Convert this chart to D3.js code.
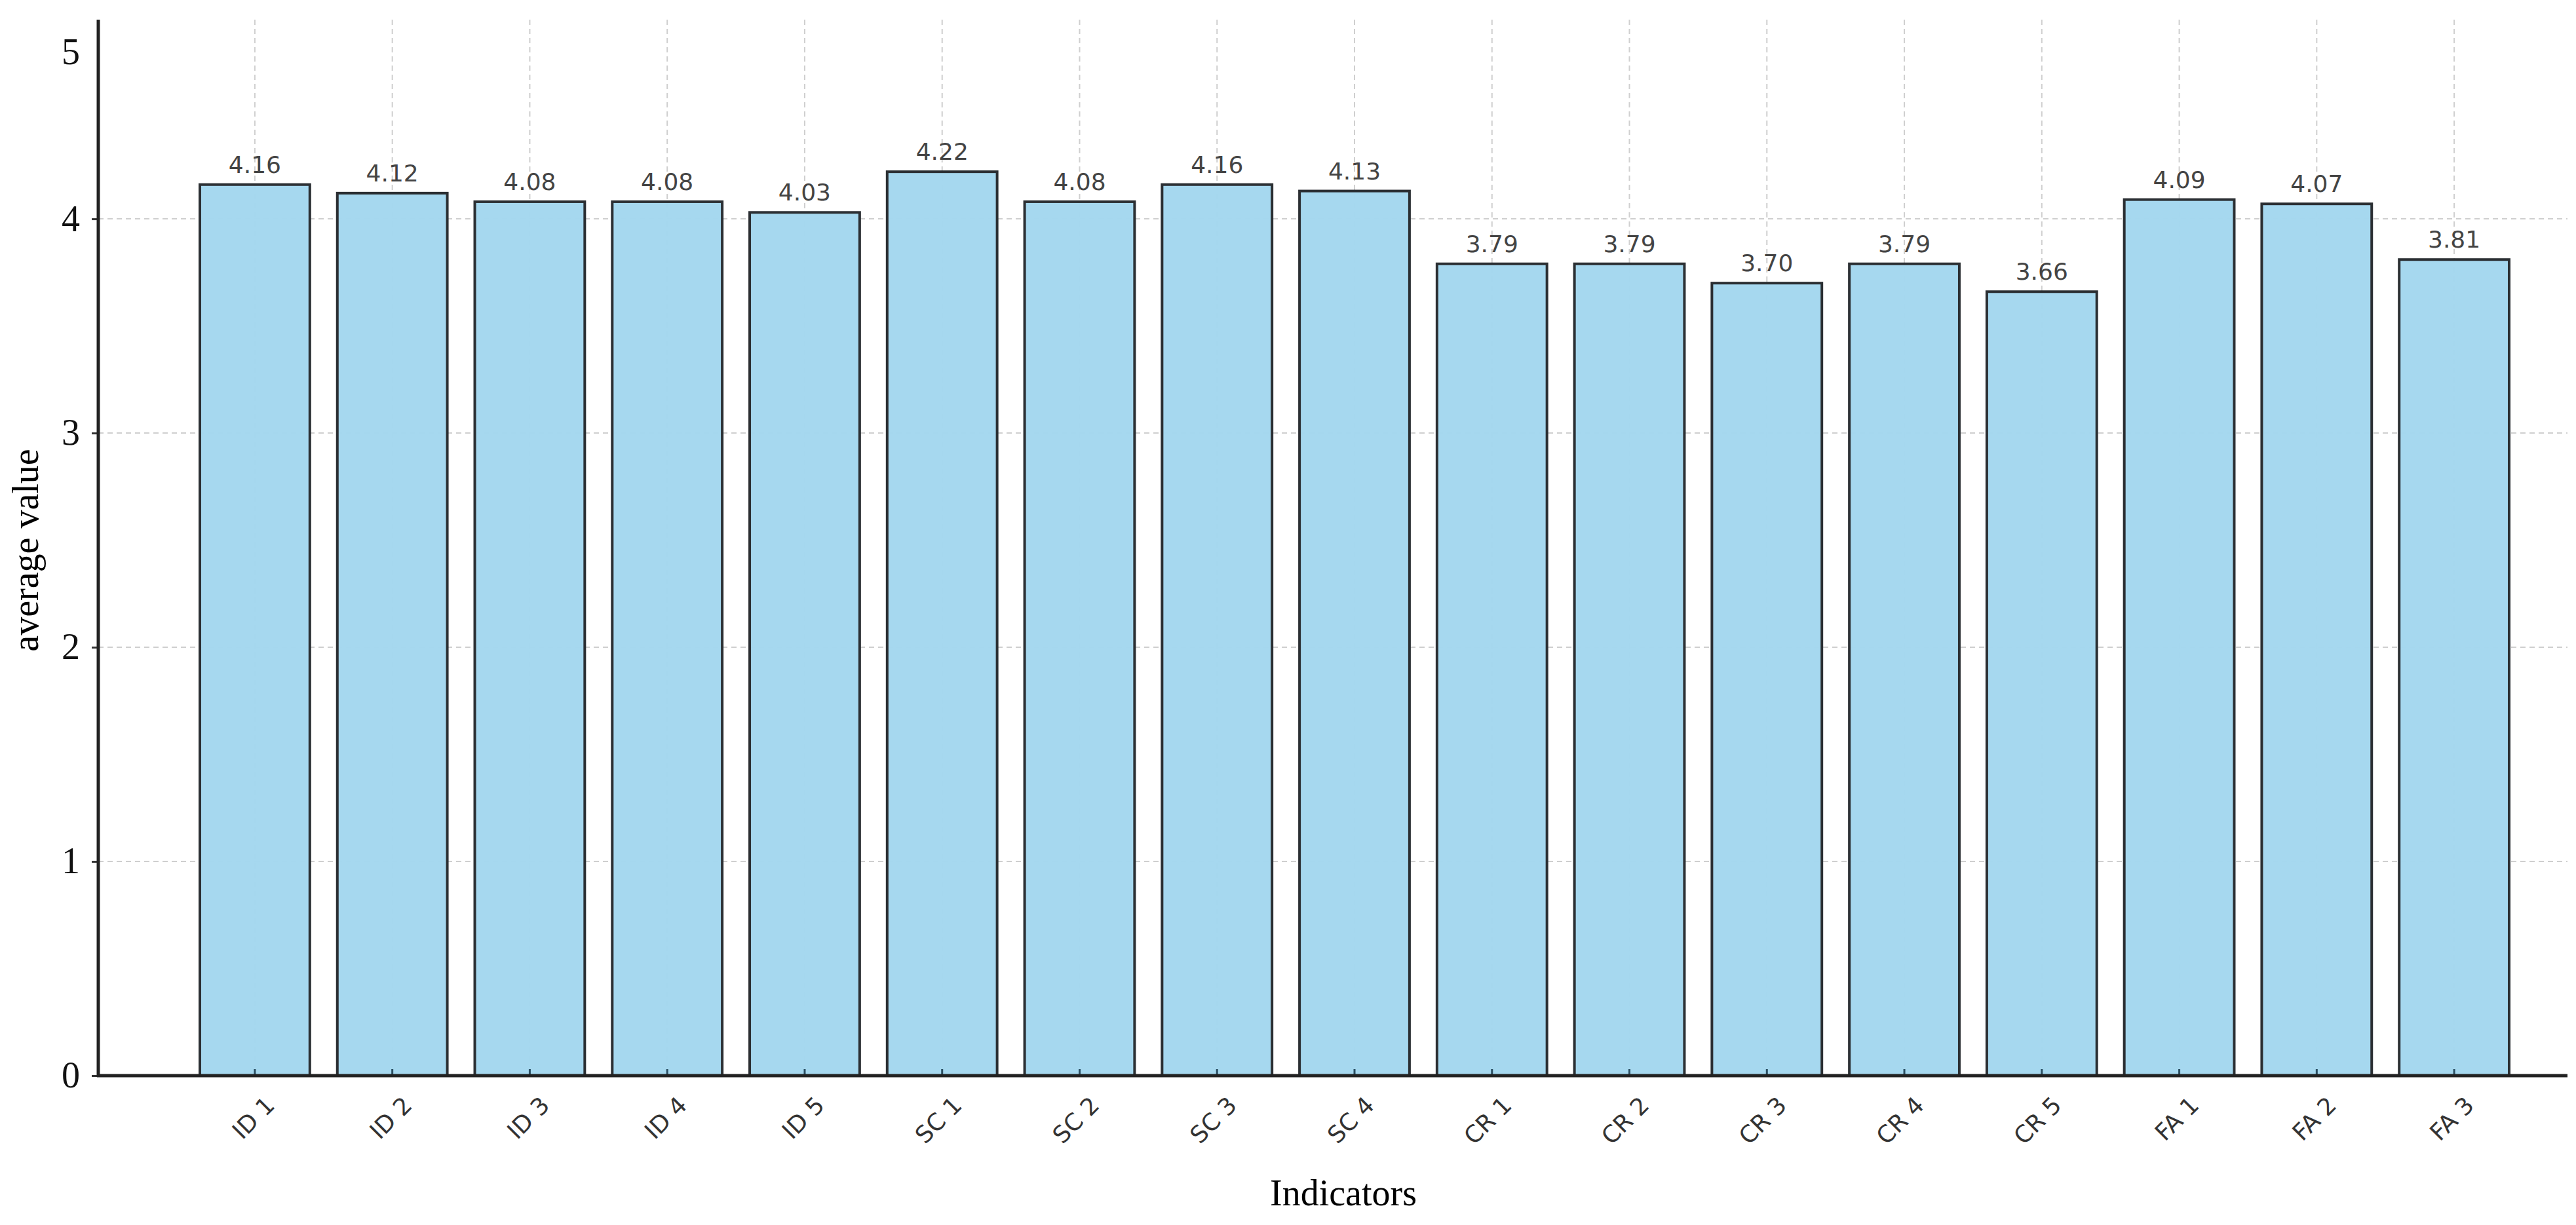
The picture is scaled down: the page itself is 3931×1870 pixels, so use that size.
<!DOCTYPE html>
<html><head><meta charset="utf-8">
<script src="https://cdn.jsdelivr.net/npm/d3@7"></script>
<style>body{margin:0;background:#fff}</style>
</head><body>
<svg id="chart" width="3931" height="1870"></svg>
<script>
const categories = ["ID 1","ID 2","ID 3","ID 4","ID 5","SC 1","SC 2","SC 3","SC 4","CR 1","CR 2","CR 3","CR 4","CR 5","FA 1","FA 2","FA 3"];
const values = [4.16,4.12,4.08,4.08,4.03,4.22,4.08,4.16,4.13,3.79,3.79,3.70,3.79,3.66,4.09,4.07,3.81];
const yTicks = [0,1,2,3,4];

const svg = d3.select("#chart");
const mLeft = 150, mRight = 3918, mBottom = 1642, mTop = 30;

const x = d3.scaleBand().domain(categories).range([305, 3829]).paddingInner(0.2).paddingOuter(0);
const y = d3.scaleLinear().domain([0, 4.93]).range([mBottom, mTop]);

// grid
svg.append("g").selectAll("line").data(yTicks.slice(1)).join("line")
    .attr("x1", mLeft).attr("x2", mRight)
    .attr("y1", d => y(d)).attr("y2", d => y(d))
    .attr("stroke", "#cfcfcf").attr("stroke-width", 2).attr("stroke-dasharray", "8,6");
svg.append("g").selectAll("line").data(categories).join("line")
    .attr("x1", d => x(d) + x.bandwidth() / 2).attr("x2", d => x(d) + x.bandwidth() / 2)
    .attr("y1", mTop).attr("y2", mBottom)
    .attr("stroke", "#cfcfcf").attr("stroke-width", 2).attr("stroke-dasharray", "8,6");

// bars
svg.append("g").selectAll("rect").data(values).join("rect")
    .attr("x", (d, i) => x(categories[i]))
    .attr("y", d => y(d))
    .attr("width", x.bandwidth())
    .attr("height", d => mBottom - y(d))
    .attr("fill", "#a3d7ee").attr("fill-opacity", 0.97)
    .attr("stroke", "#2b2f33").attr("stroke-width", 4);

svg.append("g").selectAll("text").data(values).join("text")
    .attr("x", (d, i) => x(categories[i]) + x.bandwidth() / 2)
    .attr("y", d => y(d) - 18)
    .attr("text-anchor", "middle")
    .style("font-family", "DejaVu Sans").style("font-size", "36px").style("fill", "#444")
    .text(d => d.toFixed(2));

// axes
const yAxis = d3.axisLeft(y).tickValues(yTicks).tickSize(10).tickPadding(18).tickFormat(d3.format("d"));
const gy = svg.append("g").attr("transform", `translate(${mLeft},0)`).call(yAxis);
gy.select(".domain").remove();
gy.selectAll("text").style("font-family", "Liberation Serif").style("font-size", "56px").style("fill", "#111");
gy.selectAll("line").attr("stroke", "#333").attr("stroke-width", 3);
svg.append("text").attr("x", mLeft - 28).attr("y", 80).attr("dy", "0.32em").attr("text-anchor", "end")
    .style("font-family", "Liberation Serif").style("font-size", "56px").style("fill", "#111").text("5");

const xAxis = d3.axisBottom(x).tickSize(10).tickPadding(14);
const gx = svg.append("g").attr("transform", `translate(0,${mBottom})`).call(xAxis);
gx.select(".domain").remove();
gx.selectAll("line").attr("stroke", "#2b4f63").attr("stroke-width", 3).attr("transform", "translate(0,-10)");
gx.selectAll("text")
    .style("font-family", "DejaVu Sans").style("font-size", "36px").style("fill", "#333")
    .style("text-anchor", "end")
    .attr("dx", "-0.3em").attr("dy", "0.9em")
    .attr("transform", "rotate(-45)");

svg.append("line").attr("x1", mLeft).attr("x2", mLeft).attr("y1", mTop).attr("y2", mBottom + 2)
    .attr("stroke", "#222").attr("stroke-width", 5);
svg.append("line").attr("x1", mLeft - 2).attr("x2", mRight).attr("y1", mBottom).attr("y2", mBottom)
    .attr("stroke", "#222").attr("stroke-width", 5);

svg.append("text").attr("x", 2050).attr("y", 1840).attr("text-anchor", "middle")
    .style("font-family", "Liberation Serif").style("font-size", "56px").text("Indicators");
svg.append("text").attr("transform", "translate(58,840) rotate(-90)").attr("text-anchor", "middle")
    .style("font-family", "Liberation Serif").style("font-size", "56px").text("average value");
</script>
</body></html>
